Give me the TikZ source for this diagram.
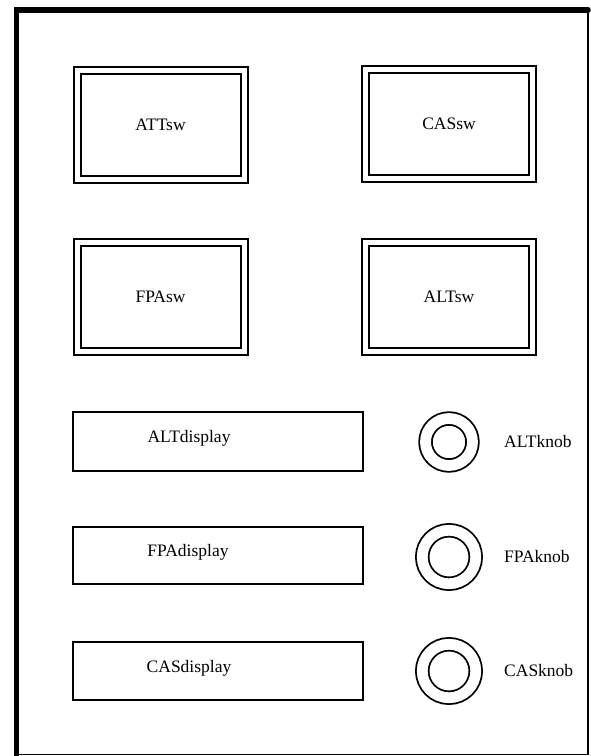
\documentclass[tikz,border=0pt]{standalone}
\usepackage{fontspec}
\setmainfont{Liberation Serif}
\usetikzlibrary{positioning}

\begin{document}
\begin{tikzpicture}[x=1pt, y=-1pt, line cap=round, line join=miter,
    font=\fontsize{17.5}{20}\selectfont,
    switch/.style={draw, line width=2pt, double, double distance=5pt,
      minimum width=167pt, minimum height=109pt, inner sep=0pt},
    display/.style={draw, line width=2pt, minimum width=290pt, minimum height=58pt},
    knob/.style={draw, circle, line width=1.8pt, double, double distance=10.8pt, inner sep=0pt},
    tag/.style={inner sep=2pt}]
  \useasboundingbox (0,0) rectangle (590,756);
  \fill[white] (0,0) rectangle (590,756);
  % panel outline
  \draw[line width=1.8pt] (16.5,10) rectangle (588,754.5);
  \draw[line width=5.5pt] (16.5,756) -- (16.5,10) -- (588,10);

  % switches
  \node[switch] (attsw) at (160.5,124.5) {ATTsw};
  \node[switch] (cassw) at (449,123.5) {CASsw};
  \node[switch] (fpasw) at (160.5,297) {FPAsw};
  \node[switch] (altsw) at (449,296.5) {ALTsw};

  % displays
  \node[display, minimum height=59pt] (altdisp) at (218,441.5) {};
  \node[display, minimum height=57pt] (fpadisp) at (218,555.5) {};
  \node[display] (casdisp) at (218,671) {};
  \node[tag] (altdisptext) at ([xshift=-29pt,yshift=3pt]altdisp.center) {ALTdisplay};
  \node[tag] (fpadisptext) at ([xshift=-30pt,yshift=3pt]fpadisp.center) {FPAdisplay};
  \node[tag] (casdisptext) at ([xshift=-29pt,yshift=3pt]casdisp.center) {CASdisplay};

  % knobs
  \node[knob, minimum size=47pt] (altknob) at (449,442) {};
  \node[knob, minimum size=53.5pt] (fpaknob) at (449,557) {};
  \node[knob, minimum size=53.5pt] (casknob) at (449,671) {};
  \node[tag, right=53pt of altknob.center] (altknobtext) {ALTknob};
  \node[tag, right=53pt of fpaknob.center] (fpaknobtext) {FPAknob};
  \node[tag, right=53pt of casknob.center] (casknobtext) {CASknob};
\end{tikzpicture}
\end{document}
